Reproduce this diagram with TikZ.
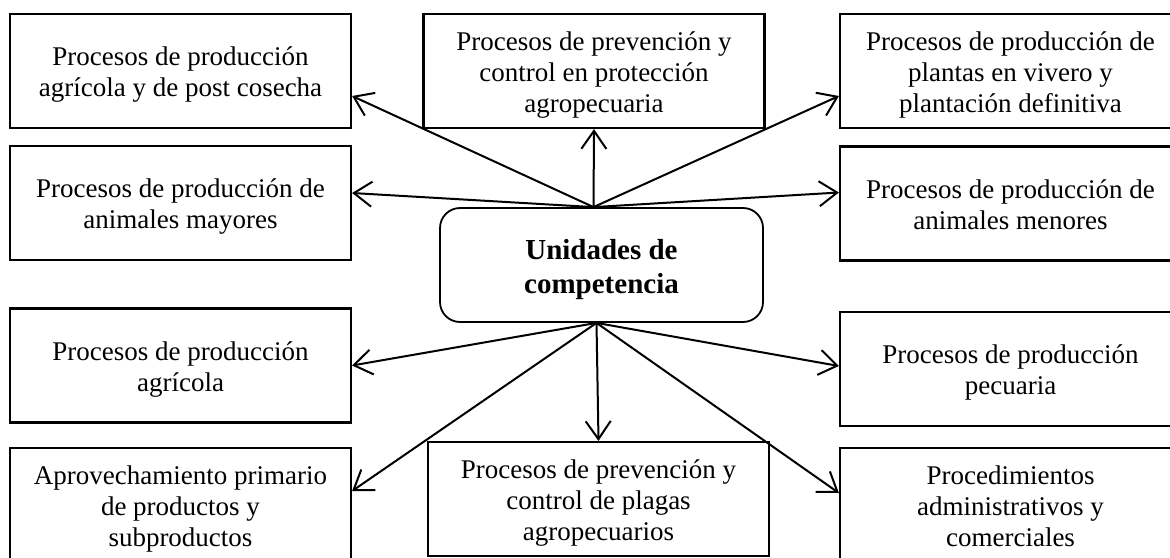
\documentclass[tikz,border=0pt]{standalone}
\usepackage{fontspec}
\setmainfont{Liberation Serif}
\usetikzlibrary{arrows.meta,calc}
\newcommand\tstr{\rule{0pt}{29.7pt}}
\newcommand\bstr{\rule[-9.3pt]{0pt}{9.3pt}}
\newcommand\htstr{\rule{0pt}{34pt}}
\newcommand\hbstr{\rule[-10.2pt]{0pt}{10.2pt}}
\begin{document}
\begin{tikzpicture}[x=1pt,y=-1pt,
  box/.style={draw, line width=2.2pt, minimum width=341pt, minimum height=114pt, inner sep=0pt, align=center, font=\fontsize{27}{31}\selectfont},
  hub/.style={draw, line width=1.8pt, rounded corners=20pt, minimum width=323pt, minimum height=114pt, inner sep=0pt, align=center, font=\fontsize{29}{34}\selectfont\bfseries},
  arr/.style={line width=2pt, -{Straight Barb[length=18pt,width=25pt,line width=2pt]}}]
\path[use as bounding box, clip] (0,0) rectangle (1170,557);
\fill[white] (0,0) rectangle (1170,557);
% boxes
\node[box] (L1) at (180.5,71) {\tstr Procesos de producción\\agrícola y de post cosecha\bstr};
\node[box] (L2) at (180.5,203) {\tstr Procesos de producción de\\animales mayores\bstr};
\node[box] (L3) at (180.5,365.5) {\tstr Procesos de producción\\agrícola\bstr};
\node[box] (L4) at (180.5,505) {\tstr Aprovechamiento primario\\de productos y\\subproductos\bstr};
\node[box] (M1) at (594,71) {\tstr Procesos de prevención y\\control en protección\\agropecuaria\bstr};
\node[hub] (C) at (601.5,265) {\htstr Unidades de\\competencia\hbstr};
\node[box] (M2) at (598.5,499) {\tstr Procesos de prevención y\\control de plagas\\agropecuarios\bstr};
\node[box] (R1) at (1010.5,71) {\tstr Procesos de producción de\\plantas en vivero y\\plantación definitiva\bstr};
\node[box] (R2) at (1010.5,203.5) {\tstr Procesos de producción de\\animales menores\bstr};
\node[box] (R3) at (1010.5,369) {\tstr Procesos de producción\\pecuaria\bstr};
\node[box] (R4) at (1010.5,505) {\tstr Procedimientos\\administrativos y\\comerciales\bstr};
% hubs of arrows
\coordinate (ht) at ([xshift=-8pt]C.north);
\coordinate (hb) at ([xshift=-5pt]C.south);
% arrows
\draw[arr] (ht) -- ([yshift=-25pt]L1.east);
\draw[arr] (ht) -- ([yshift=10pt]L2.east);
\draw[arr] (ht) -- (M1.south);
\draw[arr] (ht) -- ([yshift=-25pt]R1.west);
\draw[arr] (ht) -- ([yshift=11pt]R2.west);
\draw[arr] (hb) -- (L3.east);
\draw[arr] (hb) -- ([yshift=14pt]L4.east);
\draw[arr] (hb) -- (M2.north);
\draw[arr] (hb) -- ([yshift=3pt]R3.west);
\draw[arr] (hb) -- ([yshift=12pt]R4.west);
\end{tikzpicture}
\end{document}
